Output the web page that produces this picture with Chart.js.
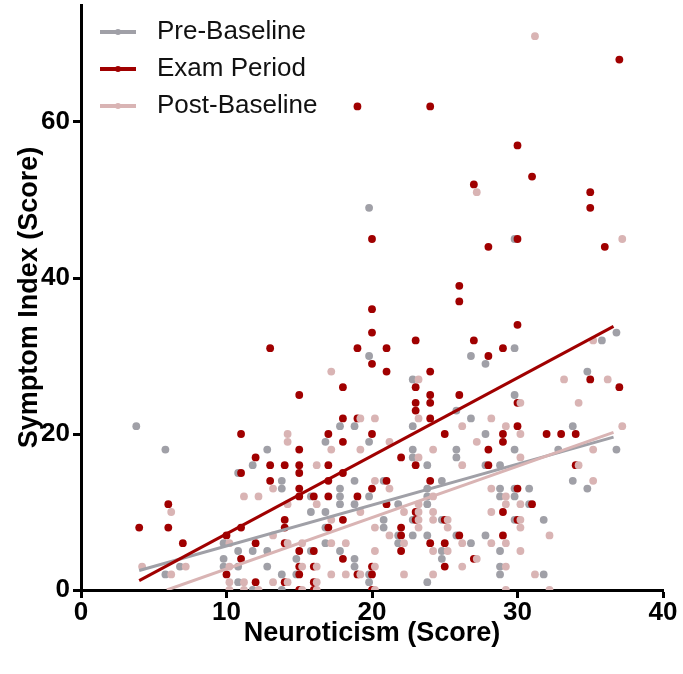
<!DOCTYPE html>
<html>
<head>
<meta charset="utf-8">
<title>Neuroticism vs Symptom Index</title>
<script src="https://cdn.jsdelivr.net/npm/chart.js@4"></script>
<style>
  html, body { margin:0; padding:0; background:#fff; }
  canvas { display:block; }
</style>
</head>
<body>
<canvas id="scatterChart" width="683" height="674"></canvas>
<script>
// series names, in legend order
const seriesNames = ["Pre-Baseline", "Exam Period", "Post-Baseline"];

// [neuroticism, symptom index]
const preBaseline = [
  [4,21],[6,18],[6,2],[7,3],[10,6],[10,4],[10,3],[11,15],[11,5],[11,3],[11,1],[12,16],[12,5],[12,0],
  [13,18],[13,5],[13,3],[14,14],[14,13],[14,2],[14,0],[15,4],[15,2],[16,12],[16,10],[16,5],
  [17,19],[17,10],[17,8],[17,6],[18,21],[18,13],[18,12],[18,11],[18,5],[19,21],[19,14],[19,11],
  [19,4],[19,3],[20,49],[20,30],[20,19],[20,12],[20,2],[20,1],[21,14],[21,9],[21,8],[22,11],
  [22,7],[22,6],[23,27],[23,21],[23,18],[23,17],[23,9],[23,7],[24,16],[24,13],[24,12],[24,11],
  [24,7],[24,1],[25,14],[25,9],[25,5],[25,4],[26,23],[26,18],[26,17],[26,7],[27,30],[27,22],
  [27,6],[28,29],[28,20],[28,16],[28,7],[29,16],[29,13],[29,12],[29,5],[29,3],[29,2],[30,45],
  [30,31],[30,25],[30,18],[30,13],[30,12],[30,9],[31,13],[31,11],[32,9],[32,2],[33,18],[34,21],
  [34,14],[35,28],[35,13],[36,32],[37,33],[37,18]
];
const examPeriod = [
  [4,8],[6,11],[6,8],[7,6],[10,7],[10,2],[11,20],[11,15],[11,8],[11,4],[12,17],[12,6],[12,1],
  [13,31],[13,16],[13,14],[14,16],[14,9],[14,8],[14,6],[14,1],[15,25],[15,18],[15,16],[15,15],
  [15,13],[15,12],[15,5],[15,3],[15,2],[15,0],[16,12],[16,5],[16,3],[16,1],[16,0],[17,20],
  [17,16],[17,14],[17,12],[17,8],[18,26],[18,22],[18,19],[18,15],[18,9],[18,4],[19,62],[19,31],
  [19,22],[19,12],[19,2],[20,45],[20,36],[20,33],[20,29],[20,20],[20,13],[20,3],[20,2],[20,0],
  [21,31],[21,28],[21,14],[21,11],[22,17],[22,8],[22,7],[22,5],[23,32],[23,26],[23,24],[23,23],
  [23,16],[23,10],[23,9],[24,62],[24,28],[24,25],[24,24],[24,22],[24,14],[24,6],[25,20],[25,9],
  [25,6],[25,3],[26,39],[26,37],[26,25],[26,7],[27,52],[27,32],[27,4],[28,44],[28,30],[28,18],
  [28,16],[29,31],[29,20],[29,19],[29,10],[29,7],[30,57],[30,45],[30,34],[30,24],[30,21],[30,13],
  [30,9],[31,53],[31,11],[32,20],[33,20],[34,20],[34,16],[35,51],[35,49],[35,27],[36,44],[37,68],
  [37,26]
];
const postBaseline = [
  [4,3],[6,10],[6,2],[7,3],[10,6],[10,3],[10,1],[10,0],[11,12],[11,1],[11,0],[12,12],[12,0],
  [13,13],[13,7],[13,1],[14,20],[14,19],[14,11],[14,6],[14,1],[15,6],[15,3],[15,0],[16,16],
  [16,11],[16,3],[16,1],[16,0],[17,28],[17,18],[17,9],[17,6],[17,2],[18,6],[18,2],[19,22],
  [19,18],[19,10],[19,2],[20,22],[20,14],[20,8],[20,5],[20,3],[20,0],[21,19],[21,13],[21,7],
  [22,10],[22,6],[22,2],[23,27],[23,22],[23,17],[23,11],[23,10],[23,9],[23,8],[24,18],[24,12],
  [24,10],[24,9],[24,5],[24,2],[25,9],[25,8],[25,5],[26,21],[26,16],[26,6],[26,3],[27,51],
  [27,19],[27,4],[28,22],[28,13],[28,10],[28,6],[29,21],[29,12],[29,11],[29,6],[29,3],[29,0],
  [30,24],[30,20],[30,17],[30,11],[30,9],[30,8],[30,5],[31,71],[31,2],[32,7],[32,0],[33,27],
  [34,24],[34,16],[35,32],[35,18],[35,14],[36,27],[37,45],[37,21]
];

// regression line end points
const preFit = [[4, 2.5], [36.6, 19.6]];
const examFit = [[4, 1.2], [36.6, 33.8]];
const postFit = [[5.9, 0], [36.6, 20.2]];

const colours = ["#a0a0a7", "#a00000", "#d9b4b4"];
const xShift = [-0.2, 0, 0.2]; // side-by-side nudge like the original plot
const FONT = "'Liberation Sans', Arial, sans-serif";

const toPoints = (arr, dx) => arr.map(([x, y]) => ({ x: x + dx, y }));

function dots(i, data, order) {
  return {
    label: seriesNames[i],
    data: toPoints(data, xShift[i]),
    backgroundColor: colours[i],
    pointRadius: 3.9,
    pointHoverRadius: 3.9,
    pointBorderWidth: 0,
    showLine: false,
    order
  };
}
function fitLine(i, data, order) {
  return {
    label: seriesNames[i] + " fit",
    data: toPoints(data, 0),
    borderColor: colours[i],
    borderWidth: 3,
    pointRadius: 0,
    showLine: true,
    order
  };
}

// legend drawn inside the plot, top-left
const legendInside = {
  id: "legendInside",
  afterDraw(chart) {
    const ctx = chart.ctx;
    ctx.save();
    ctx.font = "26px " + FONT;
    ctx.textBaseline = "middle";
    seriesNames.forEach((name, i) => {
      const y = 32 + i * 37;
      ctx.strokeStyle = colours[i];
      ctx.lineWidth = 4;
      ctx.beginPath(); ctx.moveTo(100, y); ctx.lineTo(136, y); ctx.stroke();
      ctx.fillStyle = colours[i];
      ctx.beginPath(); ctx.arc(118, y, 3, 0, Math.PI * 2); ctx.fill();
      ctx.fillStyle = "#111";
      ctx.fillText(name, 157, y);
    });
    ctx.restore();
  }
};

const ctx = document.getElementById("scatterChart").getContext("2d");
new Chart(ctx, {
  type: "scatter",
  data: {
    datasets: [
      fitLine(1, examFit, 0),
      fitLine(2, postFit, 1),
      fitLine(0, preFit, 2),
      dots(2, postBaseline, 3),
      dots(1, examPeriod, 4),
      dots(0, preBaseline, 5)
    ]
  },
  options: {
    responsive: false,
    animation: false,
    layout: { padding: { top: 5, right: 20, left: 0, bottom: 0 } },
    plugins: { legend: { display: false }, tooltip: { enabled: false } },
    scales: {
      x: {
        type: "linear",
        min: 0, max: 40,
        ticks: { stepSize: 10, color: "#000", padding: 2,
                 font: { family: FONT, size: 26, weight: "bold", lineHeight: 1 } },
        grid: { drawOnChartArea: false, tickLength: 8, tickWidth: 3, tickColor: "#000" },
        border: { color: "#000", width: 3 },
        title: { display: true, text: "Neuroticism (Score)", color: "#000",
                 font: { family: FONT, size: 27, weight: "bold", lineHeight: 1 },
                 padding: { top: 0, bottom: 27 } },
        afterFit: s => { s.height = 84; }
      },
      y: {
        type: "linear",
        min: 0, max: 75,
        afterBuildTicks: s => { s.ticks = s.ticks.filter(t => t.value % 20 === 0); },
        ticks: { stepSize: 20, color: "#000", padding: 3,
                 font: { family: FONT, size: 26, weight: "bold", lineHeight: 1 } },
        grid: { drawOnChartArea: false, tickLength: 8, tickWidth: 3, tickColor: "#000" },
        border: { color: "#000", width: 3 },
        title: { display: true, text: "Symptom Index (Score)", color: "#000",
                 font: { family: FONT, size: 27, weight: "bold", lineHeight: 1 },
                 padding: { top: 16, bottom: 0 } },
        afterFit: s => { s.width = 81; s.paddingTop = 0; s.paddingBottom = 0; }
      }
    }
  },
  plugins: [legendInside]
});
</script>
</body>
</html>
